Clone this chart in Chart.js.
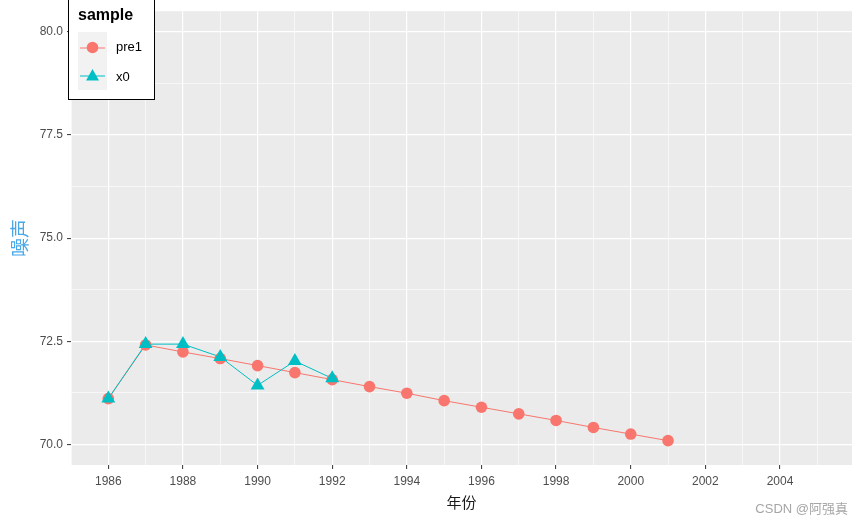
<!DOCTYPE html>
<html>
<head>
<meta charset="utf-8">
<script src="https://cdn.jsdelivr.net/npm/chart.js@4"></script>
<style>
  html, body { margin: 0; padding: 0; background: #fff; }
  #wrap { width: 863px; height: 521px; position: relative; }
</style>
</head>
<body>
<div id="wrap"><canvas id="c"></canvas></div>
<script>
// data
const years  = [1986, 1987, 1988, 1989, 1990, 1991, 1992, 1993, 1994, 1995, 1996, 1997, 1998, 1999, 2000, 2001];
const pre1   = [71.11, 72.41, 72.24, 72.08, 71.91, 71.74, 71.57, 71.40, 71.24, 71.06, 70.90, 70.74, 70.58, 70.41, 70.25, 70.09];
const x0Years = [1986, 1987, 1988, 1989, 1990, 1991, 1992];
const x0     = [71.11, 72.43, 72.43, 72.12, 71.43, 72.02, 71.60];

const xTicks = [1985, 1986, 1987, 1988, 1989, 1990, 1991, 1992, 1993, 1994, 1995, 1996,
                1997, 1998, 1999, 2000, 2001, 2002, 2003, 2004, 2005];
const xMajor = [1986, 1988, 1990, 1992, 1994, 1996, 1998, 2000, 2002, 2004];
const yTicks = [70, 71.25, 72.5, 73.75, 75, 76.25, 77.5, 78.75, 80];
const yMajor = [70, 72.5, 75, 77.5, 80];

const seriesNames = ['pre1', 'x0'];
const colors = { pre1: '#F8766D', x0: '#00BFC4' };

const pts = (xs, ys) => xs.map((x, i) => ({ x, y: ys[i] }));

const isMajor = (list, v) => list.some(m => Math.abs(m - v) < 1e-6);

// grey panel + watermark + legend box drawn on top
const ggPanel = {
  id: 'ggPanel',
  beforeDraw(chart) {
    const { ctx, chartArea: a } = chart;
    ctx.save();
    ctx.fillStyle = '#ffffff';
    ctx.fillRect(0, 0, chart.width, chart.height);
    ctx.fillStyle = '#EBEBEB';
    ctx.fillRect(a.left, a.top, a.right - a.left, a.bottom - a.top);
    ctx.restore();
  },
  afterDraw(chart) {
    const ctx = chart.ctx;
    ctx.save();
    // watermark
    ctx.font = '13px "Liberation Sans", "Noto Sans CJK SC", sans-serif';
    ctx.fillStyle = '#a6a6a6';
    ctx.textAlign = 'right';
    ctx.textBaseline = 'middle';
    ctx.fillText('CSDN @阿强真', 848, 509);

    // legend
    ctx.fillStyle = '#ffffff';
    ctx.fillRect(68, -2, 87, 102);
    ctx.strokeStyle = '#000000';
    ctx.lineWidth = 1;
    ctx.strokeRect(68.5, -2, 86, 101.5);

    ctx.fillStyle = '#000000';
    ctx.textAlign = 'left';
    ctx.font = 'bold 16px "Liberation Sans", Arial, sans-serif';
    ctx.fillText('sample', 78, 16);

    ctx.fillStyle = '#F2F2F2';
    ctx.fillRect(78, 32, 29, 58);

    seriesNames.forEach((name, i) => {
      const cy = 47.5 + i * 28;
      const cx = 92.5;
      ctx.strokeStyle = colors[name];
      ctx.lineWidth = 1;
      ctx.beginPath();
      ctx.moveTo(80, cy + 0.5);
      ctx.lineTo(105, cy + 0.5);
      ctx.stroke();
      ctx.fillStyle = colors[name];
      ctx.beginPath();
      if (name === 'pre1') {
        ctx.arc(cx, cy, 5.8, 0, Math.PI * 2);
      } else {
        ctx.moveTo(cx, cy - 6.5);
        ctx.lineTo(cx + 6.5, cy + 5);
        ctx.lineTo(cx - 6.5, cy + 5);
        ctx.closePath();
      }
      ctx.fill();
      ctx.fillStyle = '#000000';
      ctx.font = '13px "Liberation Sans", Arial, sans-serif';
      ctx.fillText(name, 116, cy + (i ? 2 : 0));
    });
    ctx.restore();
  }
};

const lineSet = (data, color, order) => ({
  data, borderColor: color, borderWidth: 1, pointRadius: 0,
  showLine: true, fill: false, tension: 0, order
});
const pointSet = (data, color, style, r, order) => ({
  data, backgroundColor: color, borderColor: color, borderWidth: 0,
  pointStyle: style, pointRadius: r, pointHoverRadius: r, showLine: false, order
});

const tickFont = { family: '"Liberation Sans", Arial, sans-serif', size: 12 };

new Chart(document.getElementById('c'), {
  type: 'scatter',
  data: {
    datasets: [
      pointSet(pts(x0Years, x0), colors.x0, 'triangle', 8, 0),
      pointSet(pts(years, pre1), colors.pre1, 'circle', 5.8, 1),
      lineSet(pts(x0Years, x0), colors.x0, 2),
      lineSet(pts(years, pre1), colors.pre1, 3),
    ]
  },
  options: {
    responsive: true,
    maintainAspectRatio: false,
    animation: false,
    devicePixelRatio: 1,
    layout: { padding: { top: 8, right: 11, left: 0, bottom: 0 } },
    plugins: { legend: { display: false }, tooltip: { enabled: false } },
    scales: {
      x: {
        type: 'linear',
        min: 1985.0,
        max: 2005.93,
        afterBuildTicks: s => { s.ticks = xTicks.map(v => ({ value: v })); },
        afterFit: s => { s.height = 56; },
        border: { display: false },
        grid: {
          color: '#ffffff',
          lineWidth: c => isMajor(xMajor, c.tick.value) ? 1.2 : 0.6,
          drawTicks: true,
          tickLength: 4,
          tickWidth: 1,
          tickColor: c => isMajor(xMajor, c.tick.value) ? '#333333' : 'rgba(0,0,0,0)',
        },
        ticks: {
          autoSkip: false,
          maxRotation: 0,
          color: '#4D4D4D',
          font: tickFont,
          padding: 5,
          callback: v => isMajor(xMajor, v) ? String(v) : '',
        },
        title: {
          display: true,
          text: '年份',
          color: '#1A1A1A',
          font: { family: '"Noto Sans CJK SC", sans-serif', size: 15 },
          padding: { top: 0, bottom: 10 },
        },
      },
      y: {
        min: 69.5,
        max: 80.5,
        afterBuildTicks: s => { s.ticks = yTicks.map(v => ({ value: v })); },
        afterFit: s => { s.width = 71; },
        border: { display: false },
        grid: {
          color: '#ffffff',
          lineWidth: c => isMajor(yMajor, c.tick.value) ? 1.2 : 0.6,
          drawTicks: true,
          tickLength: 4,
          tickWidth: 1,
          tickColor: c => isMajor(yMajor, c.tick.value) ? '#333333' : 'rgba(0,0,0,0)',
        },
        ticks: {
          color: '#4D4D4D',
          font: tickFont,
          padding: 4,
          callback: v => isMajor(yMajor, v) ? v.toFixed(1) : '',
        },
        title: {
          display: true,
          text: '噪声',
          color: '#4AA8E8',
          font: { family: '"Noto Sans CJK SC", sans-serif', size: 19 },
          padding: { top: 8, bottom: 0 },
        },
      },
    },
  },
  plugins: [ggPanel],
});
</script>
</body>
</html>
